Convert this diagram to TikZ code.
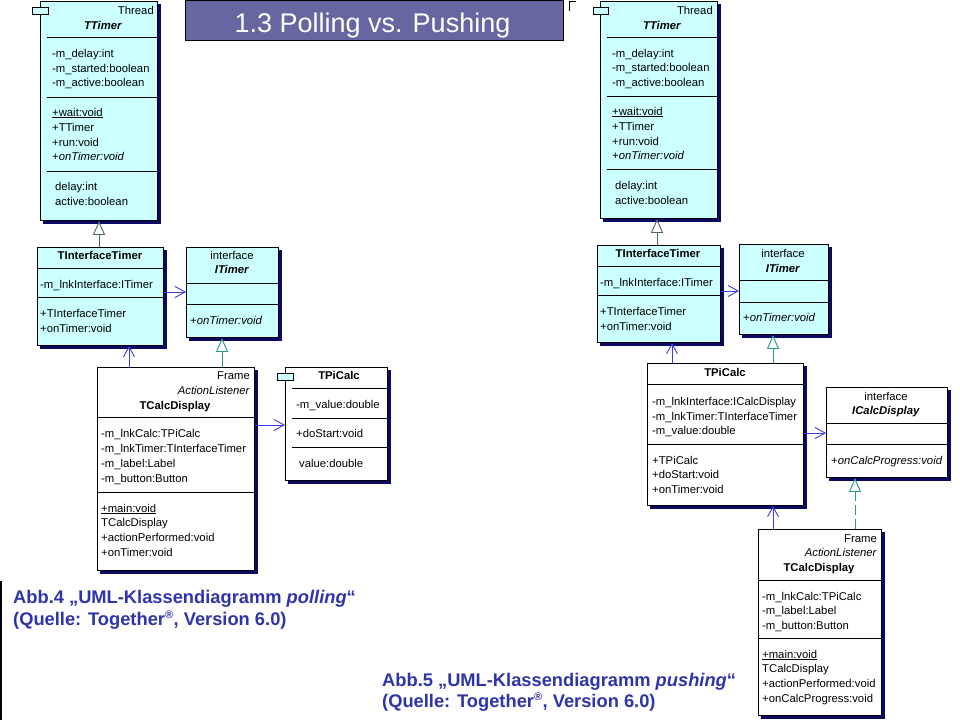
\documentclass[tikz,border=0pt]{standalone}
\usepackage{fontspec}
\setmainfont{Liberation Sans}
\usetikzlibrary{arrows.meta}
\pgfdeclarelayer{bgw}
\pgfdeclarelayer{bg}
\pgfsetlayers{bgw,bg,main}
\definecolor{cyanf}{RGB}{204,255,255}
\definecolor{shadowc}{RGB}{10,10,100}
\definecolor{assocc}{RGB}{60,60,230}
\definecolor{inhc}{RGB}{70,100,100}
\definecolor{realc}{RGB}{40,150,140}
\definecolor{capc}{RGB}{46,52,170}
\definecolor{titlef}{RGB}{102,102,160}
\newcounter{nn}
\newcommand\T[4][base west]{\stepcounter{nn}\node[txt,anchor=#1] (n\arabic{nn}) at (#2,#3+4) {#4};}
\newcommand\shd[1]{\begin{pgfonlayer}{bg}\fill[shadowc] ([shift={(3pt,-3pt)}]#1.south west) rectangle ([shift={(3pt,-3pt)}]#1.north east);\end{pgfonlayer}}
\begin{document}
\begin{tikzpicture}[x=1pt,y=-1pt,
  txt/.style={inner sep=0pt, font=\fontsize{11.3}{13}\selectfont, text=black},
  cls/.style={draw=black, line width=0.9pt, inner sep=0pt, anchor=north west},
  sepline/.style={draw=black, line width=0.9pt},
  iconbox/.style={draw=black, line width=0.9pt, fill=cyanf},
  assoc/.style={draw=assocc, line width=0.9pt, -{Straight Barb[length=10pt,width=11pt]}},
  inh/.style={draw=inhc, line width=0.9pt, -{Triangle[length=14pt,width=12pt,fill=white]}},
  real/.style={draw=realc, line width=0.9pt, -{Triangle[length=14pt,width=12pt,fill=white]}},
  captxt/.style={inner sep=0pt, text=capc, font=\fontsize{18.3}{20}\selectfont\bfseries, anchor=base west}
]
\begin{pgfonlayer}{bgw}
\fill[white] (0,0) rectangle (960,720);
\end{pgfonlayer}
\useasboundingbox (0,0) rectangle (960,720);

% ---------- title ----------
\node[draw=black, line width=0.8pt, fill=titlef, minimum width=378pt, minimum height=40pt, inner sep=0pt, anchor=north west] (title) at (185,0) {};
\node[inner sep=0pt, anchor=base, text=white, font=\fontsize{27}{30}\selectfont] (titletx) at (372.5,32) {1.3 Polling vs. Pushing};
\draw[line width=0.8pt] (576,1) -- (569,1) -- (569,11);
\draw[line width=1.5pt] (1,581) -- (1,720);

% ================= LEFT (polling) =================
% TTimer
\node[cls, fill=cyanf, minimum width=117pt, minimum height=219pt] (ttL) at (40,1) {};
\shd{ttL}
\draw[iconbox] (32,7) rectangle (48,14);
\draw[sepline] (47,37) -- (157,37);
\draw[sepline] (47,97) -- (157,97);
\draw[sepline] (47,171) -- (157,171);
\T[base east]{154}{10}{Thread}
\T[base]{103}{25}{\textbf{\textit{TTimer}}}
\T{52}{53}{-m\_delay:int}
\T{52}{68}{-m\_started:boolean}
\T{52}{82}{-m\_active:boolean}
\T{52}{112}{\underline{+wait:void}}
\T{52}{127}{+TTimer}
\T{52}{142}{+run:void}
\T{52}{156}{+\textit{onTimer:void}}
\T{55}{186}{delay:int}
\T{55}{201}{active:boolean}

% TInterfaceTimer
\node[cls, fill=cyanf, minimum width=126pt, minimum height=98pt] (titL) at (37,247) {};
\shd{titL}
\draw[sepline] (37,268) -- (163,268);
\draw[sepline] (37,297) -- (163,297);
\T[base]{100}{255}{\textbf{TInterfaceTimer}}
\T{40}{284}{-m\_lnkInterface:ITimer}
\T{40}{313}{+TInterfaceTimer}
\T{40}{328}{+onTimer:void}

% ITimer
\node[cls, fill=cyanf, minimum width=92pt, minimum height=90pt] (itL) at (186,247) {};
\shd{itL}
\draw[sepline] (186,283) -- (278,283);
\draw[sepline] (186,304) -- (278,304);
\T[base]{232}{255}{interface}
\T[base]{232}{269}{\textbf{\textit{ITimer}}}
\T{190}{320}{+\textit{onTimer:void}}

% TCalcDisplay
\node[cls, fill=white, minimum width=157pt, minimum height=203pt] (tcdL) at (97,367) {};
\shd{tcdL}
\draw[sepline] (97,417) -- (254,417);
\draw[sepline] (97,492) -- (254,492);
\T[base east]{250}{375}{Frame}
\T[base east]{250}{390}{\textit{ActionListener}}
\T[base]{175}{405}{\textbf{TCalcDisplay}}
\T{101}{433}{-m\_lnkCalc:TPiCalc}
\T{101}{448}{-m\_lnkTimer:TInterfaceTimer}
\T{101}{463}{-m\_label:Label}
\T{101}{478}{-m\_button:Button}
\T{101}{508}{\underline{+main:void}}
\T{101}{522}{TCalcDisplay}
\T{101}{537}{+actionPerformed:void}
\T{101}{552}{+onTimer:void}

% TPiCalc
\node[cls, fill=white, minimum width=102pt, minimum height=113pt] (tpcL) at (285,367) {};
\shd{tpcL}
\draw[iconbox] (277,373) rectangle (293,380);
\draw[sepline] (292,388) -- (387,388);
\draw[sepline] (292,418) -- (387,418);
\draw[sepline] (292,447) -- (387,447);
\T[base]{339}{375}{\textbf{TPiCalc}}
\T{296}{404}{-m\_value:double}
\T{296}{433}{+doStart:void}
\T{299}{463}{value:double}

% connectors left
\draw[inh] (99,0 |- titL.north) -- (99,0 |- ttL.south);
\draw[assoc] (titL.east |- 0,292) -- (itL.west |- 0,292);
\draw[assoc] (129,0 |- tcdL.north) -- (129,0 |- titL.south);
\draw[real] (222,0 |- tcdL.north) -- (222,0 |- itL.south);
\draw[assoc] (tcdL.east |- 0,425) -- (tpcL.west |- 0,425);

% caption left
\node[captxt] (cap1a) at (13,603) {Abb.4 „UML-Klassendiagramm \textit{polling}“};
\node[captxt] (cap1b) at (13,625) {(Quelle: Together\textsuperscript{\fontsize{11}{11}\selectfont ®}, Version 6.0)};

% ================= RIGHT (pushing) =================
% TTimer
\node[cls, fill=cyanf, minimum width=117pt, minimum height=217pt] (ttR) at (600,1) {};
\shd{ttR}
\draw[iconbox] (593,7) rectangle (608,14);
\draw[sepline] (607,37) -- (717,37);
\draw[sepline] (607,96) -- (717,96);
\draw[sepline] (607,169) -- (717,169);
\T[base east]{713}{10}{Thread}
\T[base]{662}{25}{\textbf{\textit{TTimer}}}
\T{612}{53}{-m\_delay:int}
\T{612}{67}{-m\_started:boolean}
\T{612}{82}{-m\_active:boolean}
\T{612}{111}{\underline{+wait:void}}
\T{612}{126}{+TTimer}
\T{612}{141}{+run:void}
\T{612}{155}{+\textit{onTimer:void}}
\T{615}{185}{delay:int}
\T{615}{200}{active:boolean}

% TInterfaceTimer
\node[cls, fill=cyanf, minimum width=123pt, minimum height=97pt] (titR) at (597,245) {};
\shd{titR}
\draw[sepline] (597,266) -- (720,266);
\draw[sepline] (597,295) -- (720,295);
\T[base]{658}{253}{\textbf{TInterfaceTimer}}
\T{600}{282}{-m\_lnkInterface:ITimer}
\T{600}{311}{+TInterfaceTimer}
\T{600}{326}{+onTimer:void}

% ITimer
\node[cls, fill=cyanf, minimum width=89pt, minimum height=90pt] (itR) at (739,244) {};
\shd{itR}
\draw[sepline] (739,280) -- (828,280);
\draw[sepline] (739,302) -- (828,302);
\T[base]{783}{253}{interface}
\T[base]{783}{268}{\textbf{\textit{ITimer}}}
\T{743}{317}{+\textit{onTimer:void}}

% TPiCalc
\node[cls, fill=white, minimum width=156pt, minimum height=142pt] (tpcR) at (647,363) {};
\shd{tpcR}
\draw[sepline] (647,384) -- (803,384);
\draw[sepline] (647,444) -- (803,444);
\T[base]{725}{372}{\textbf{TPiCalc}}
\T{652}{401}{-m\_lnkInterface:ICalcDisplay}
\T{652}{416}{-m\_lnkTimer:TInterfaceTimer}
\T{652}{430}{-m\_value:double}
\T{652}{460}{+TPiCalc}
\T{652}{474}{+doStart:void}
\T{652}{489}{+onTimer:void}

% ICalcDisplay
\node[cls, fill=white, minimum width=121pt, minimum height=90pt] (icdR) at (826,387) {};
\shd{icdR}
\draw[sepline] (826,423) -- (947,423);
\draw[sepline] (826,444) -- (947,444);
\T[base]{886}{396}{interface}
\T[base]{886}{410}{\textbf{\textit{ICalcDisplay}}}
\T{831}{460}{+\textit{onCalcProgress:void}}

% TCalcDisplay
\node[cls, fill=white, minimum width=123pt, minimum height=186pt] (tcdR) at (758,529) {};
\shd{tcdR}
\draw[sepline] (758,580) -- (881,580);
\draw[sepline] (758,638) -- (881,638);
\T[base east]{877}{538}{Frame}
\T[base east]{877}{552}{\textit{ActionListener}}
\T[base]{819}{567}{\textbf{TCalcDisplay}}
\T{762}{596}{-m\_lnkCalc:TPiCalc}
\T{762}{610}{-m\_label:Label}
\T{762}{625}{-m\_button:Button}
\T{762}{654}{\underline{+main:void}}
\T{762}{668}{TCalcDisplay}
\T{762}{683}{+actionPerformed:void}
\T{762}{698}{+onCalcProgress:void}

% connectors right
\draw[inh] (657,0 |- titR.north) -- (657,0 |- ttR.south);
\draw[assoc] (titR.east |- 0,291) -- (itR.west |- 0,291);
\draw[assoc] (672,0 |- tpcR.north) -- (672,0 |- titR.south);
\draw[real] (773,0 |- tpcR.north) -- (773,0 |- itR.south);
\draw[assoc] (tpcR.east |- 0,433) -- (icdR.west |- 0,433);
\draw[real, dash pattern=on 10pt off 4pt] (855,0 |- tcdR.north) -- (855,0 |- icdR.south);
\draw[assoc] (773,0 |- tcdR.north) -- (773,0 |- tpcR.south);

% caption right
\node[captxt] (cap2a) at (382,686) {Abb.5 „UML-Klassendiagramm \textit{pushing}“};
\node[captxt] (cap2b) at (382,707) {(Quelle: Together\textsuperscript{\fontsize{11}{11}\selectfont ®}, Version 6.0)};
\end{tikzpicture}
\end{document}
